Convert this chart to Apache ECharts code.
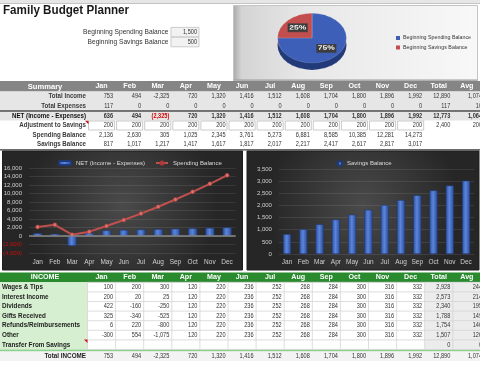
<!DOCTYPE html>
<html><head><meta charset="utf-8">
<script src="https://cdn.jsdelivr.net/npm/echarts@6/dist/echarts.min.js"></script>
<style>
html,body{margin:0;padding:0;background:#fff;overflow:hidden;width:480px;height:366px}
#main{position:absolute;left:0;top:0;width:480px;height:366px}
#pie{position:absolute;left:0;top:0;width:480px;height:120px;transform:scaleY(0.72);transform-origin:0 0;pointer-events:none}
</style></head><body>
<div id="main"></div><div id="pie"></div>
<script>
// ---------------- DATA ----------------
const months = ['Jan','Feb','Mar','Apr','May','Jun','Jul','Aug','Sep','Oct','Nov','Dec'];
const extraCols = ['Total','Avg'];
const beginningLabels = ['Beginning Spending Balance','Beginning Savings Balance'];
const beginningValues = [1500, 500];

const summaryLabels = ['Total Income','Total Expenses','NET (Income - Expenses)','Adjustment to Savings','Spending Balance','Savings Balance'];
const totalIncome   = [753,494,-2325,720,1320,1416,1512,1608,1704,1800,1896,1992];
const totalIncomeTA = [12890,1074];
const totalExpenses = [117,0,0,0,0,0,0,0,0,0,0,0];
const totalExpensesTA = [117,10];
const netIncome     = [636,494,-2325,720,1320,1416,1512,1608,1704,1800,1896,1992];
const netIncomeTA   = [12773,1064];
const adjustment    = [200,200,200,200,200,200,200,200,200,200,200,200];
const adjustmentTA  = [2400,200];
const spendingBalance = [2136,2630,305,1025,2345,3761,5273,6881,8585,10385,12281,14273];
const savingsBalance  = [817,1017,1217,1417,1617,1817,2017,2217,2417,2617,2817,3017];

const incomeLabels = ['Wages & Tips','Interest Income','Dividends','Gifts Received','Refunds/Reimbursements','Other','Transfer From Savings'];
const wages     = [100,200,300,120,220,236,252,268,284,300,316,332];
const interest  = [200,20,25,120,220,236,252,268,284,300,316,332];
const dividends = [422,-160,-250,120,220,236,252,268,284,300,316,332];
const gifts     = [325,-340,-525,120,220,236,252,268,284,300,316,332];
const refunds   = [6,220,-800,120,220,236,252,268,284,300,316,332];
const other     = [-300,554,-1075,120,220,236,252,268,284,300,316,332];
const transfer  = [null,null,null,null,null,null,null,null,null,null,null,null];
const incomeTA  = [[2928,244],[2573,214],[2340,195],[1788,149],[1754,146],[1507,126],[0,0]];
const totalIncomeRowLabel = 'Total INCOME';

// ---------------- LAYOUT HELPERS ----------------
const FONT = '"Liberation Sans", Arial, sans-serif';
const colX0 = 87.5, colW = 28.1;
const colLeft = i => colX0 + colW * i;
const colRight = i => colX0 + colW * (i + 1);
const colCenter = i => colX0 + colW * (i + 0.5);
const fmt = v => (v < 0 ? '-' : '') + String(Math.abs(v)).replace(/\B(?=(\d{3})+(?!\d))/g, ',');
const G = [];
function rect(x, y, w, h, fill, extra) {
  G.push(Object.assign({type:'rect', silent:true, z:1, shape:{x:x, y:y, width:w, height:h}, style:{fill:fill}}, extra || {}));
}
function line(x1, y1, x2, y2, stroke, lw, z) {
  G.push({type:'line', silent:true, z:z || 3, shape:{x1:x1, y1:y1, x2:x2, y2:y2}, style:{stroke:stroke, lineWidth:lw || 1}});
}
function text(x, y, t, o) {
  o = o || {};
  const al = o.align || 'left';
  G.push({type:'text', silent:true, z:o.z || 6, x:x, y:y, scaleX:o.sx || 1,
    style:{x:0, y:0, text:t, fill:o.color || '#333', font:(o.bold ? 'bold ' : '') + (o.size || 7) + 'px ' + FONT,
      textAlign:al, textVerticalAlign:'middle', align:al, verticalAlign:'middle'}});
}
function tri(x, y) {
  G.push({type:'polygon', silent:true, z:7, shape:{points:[[x, y], [x + 3.5, y], [x + 3.5, y + 3.5]]}, style:{fill:'#d01010'}});
}
function valText(i, y, v, o) {
  if (v === null || v === undefined) return;
  o = o || {};
  let s = fmt(v), color = o.color || '#333';
  if (o.paren && v < 0) { s = '(' + fmt(-v) + ')'; color = '#d00000'; }
  const x = i === 13 ? 482 : colRight(i) - 2.5;
  text(x, y, s, {align:'right', sx:0.8, size:7, bold:o.bold, color:color});
}

// ---------------- TOP AREA ----------------
rect(0, 0, 480, 3, '#e6e6e6');
line(0, 3.5, 480, 3.5, '#c4c4c4', 1);
text(3, 10.5, 'Family Budget Planner', {bold:true, size:12, sx:0.97, color:'#1a1a1a'});
const begY = [32.2, 42];
beginningLabels.forEach((l, i) => {
  text(168.5, begY[i], l, {align:'right', size:7, sx:0.95, color:'#333'});
  rect(171, begY[i] - 4.8, 28, 9.6, '#f2f2f2', {style:{fill:'#f2f2f2', stroke:'#c0c0c0', lineWidth:0.8}});
  text(197, begY[i], fmt(beginningValues[i]), {align:'right', size:7, sx:0.8, color:'#333'});
});
// pie panel
rect(233.5, 5.5, 244, 75, null, {style:{fill:{type:'linear', x:0, y:0, x2:1, y2:0,
  colorStops:[{offset:0, color:'#a8a8a8'}, {offset:0.035, color:'#d4d4d4'}, {offset:0.3, color:'#e8e8e8'}, {offset:1, color:'#f8f8f8'}]},
  stroke:'#c4c4c4', lineWidth:1}});
line(233.5, 80, 477.5, 80, '#9a9a9a', 1);

// ---------------- SUMMARY TABLE ----------------
rect(0, 81, 480, 10.5, '#858585');
text(45, 86.3, 'Summary', {align:'center', bold:true, size:8, sx:0.95, color:'#fff'});
months.concat(extraCols).forEach((m, i) => text(colCenter(i), 86.3, m, {align:'center', bold:true, size:7.5, sx:0.95, color:'#fff'}));
rect(0, 91.5, 480, 19.3, '#e6e6e6');
line(0, 111, 480, 111, '#4a4a4a', 1.3);
rect(0, 111.7, 480, 8.8, '#e6e6e6');
const sumY = [96.5, 106, 116, 125.3, 134.7, 144];
const sumVals = [totalIncome, totalExpenses, netIncome, adjustment, spendingBalance, savingsBalance];
const sumTA = [totalIncomeTA, totalExpensesTA, netIncomeTA, adjustmentTA, null, null];
for (let i = 0; i < 12; i++) rect(colLeft(i) + 1, 121, colW - 2, 9, '#ffffff', {style:{fill:'#fff', stroke:'#bdbdbd', lineWidth:0.8}});
summaryLabels.forEach((l, r) => {
  text(86, sumY[r], l, {align:'right', bold:true, size:7, sx:0.88, color:r === 2 ? '#111' : '#3a3a3a'});
  sumVals[r].forEach((v, i) => valText(i, sumY[r], v, {bold:r === 2, paren:r === 2}));
  if (sumTA[r]) sumTA[r].forEach((v, k) => valText(12 + k, sumY[r], v, {bold:r === 2}));
});
tri(85, 120.8);
line(0, 149.8, 480, 149.8, '#3a3a3a', 1.2);

// ---------------- CHART PANELS ----------------
const darkBg = {type:'radial', x:0.5, y:0.45, r:0.8, colorStops:[{offset:0, color:'#4a4a4a'}, {offset:1, color:'#262626'}]};
rect(2.5, 151, 240, 119, null, {z:-10, style:{fill:darkBg, stroke:'#1e1e1e', lineWidth:1}});
rect(247, 151, 232, 119, null, {z:-10, style:{fill:darkBg, stroke:'#1e1e1e', lineWidth:1}});

// ---------------- INCOME TABLE ----------------
rect(0, 272.5, 480, 9.8, '#2a8a2e');
text(45, 277.4, 'INCOME', {align:'center', bold:true, size:7.5, sx:0.95, color:'#fff'});
months.concat(extraCols).forEach((m, i) => text(colCenter(i), 277.4, m, {align:'center', bold:true, size:7.5, sx:0.95, color:'#fff'}));
rect(0, 282.3, colX0, 67.2, '#d6efd0');
rect(colLeft(12), 282.3, 480 - colLeft(12), 67.2, '#ececec');
const incY0 = 287.1, incH = 9.6;
for (let r = 0; r <= 7; r++) line(colX0, 282.3 + r * incH, 480, 282.3 + r * incH, '#d4d4d4', 0.8);
for (let i = 0; i <= 13; i++) line(colRight(i), 282.3, colRight(i), 349.5, '#d4d4d4', 0.8);
line(colX0, 282.3, colX0, 349.5, '#d4d4d4', 0.8);
const incVals = [wages, interest, dividends, gifts, refunds, other, transfer];
incomeLabels.forEach((l, r) => {
  const y = incY0 + r * incH;
  text(2, y, l, {bold:true, size:7, sx:0.9, color:'#222'});
  incVals[r].forEach((v, i) => valText(i, y, v));
  incomeTA[r].forEach((v, k) => valText(12 + k, y, v));
});
tri(84, 339.5);
rect(0, 349.5, 480, 2, '#8fd08f');
rect(0, 351.5, 480, 9.5, '#f3f3f3');
text(86, 356.3, totalIncomeRowLabel, {align:'right', bold:true, size:7, sx:0.9, color:'#222'});
totalIncome.forEach((v, i) => valText(i, 356.3, v));
totalIncomeTA.forEach((v, k) => valText(12 + k, 356.3, v));

// ---------------- CHARTS ----------------
const blueGrad = {type:'linear', x:0, y:0, x2:1, y2:0, colorStops:[{offset:0, color:'#2c4f9e'}, {offset:0.45, color:'#5b86dc'}, {offset:1, color:'#2a4a96'}]};
const axisLab = {color:'#d0d0d0', fontSize:6, fontFamily:FONT};
const pieColors = ['#3d5fb8', '#c24e4e'];
const pieDark = ['#22397a', '#7a2a2a'];

const option = {
  animation:false,
  backgroundColor:'#ffffff',
  graphic:{elements:G},
  legend:[
    {data:['NET (Income - Expenses)', 'Spending Balance'], left:53, top:155, itemWidth:12, itemHeight:4, itemGap:10,
      textStyle:{color:'#dcdcdc', fontSize:6, fontFamily:FONT}},
    {data:['Savings Balance'], left:332, top:155.5, itemWidth:4, itemHeight:4, icon:'rect',
      textStyle:{color:'#dcdcdc', fontSize:6, fontFamily:FONT}},
    {data:beginningLabels, orient:'vertical', left:391, top:30.5, itemWidth:4, itemHeight:4, itemGap:4.5, icon:'rect',
      textStyle:{color:'#333', fontSize:5.3, fontFamily:FONT, padding:[0, 0, 0, -2]}}
  ],
  grid:[
    {left:28.4, top:168, width:207.3, height:85},
    {left:278.9, top:169, width:195.3, height:85}
  ],
  xAxis:[
    {type:'category', gridIndex:0, data:months, axisLine:{show:false}, axisTick:{show:false},
      axisLabel:Object.assign({margin:6}, axisLab, {fontSize:6.5})},
    {type:'category', gridIndex:1, data:months, axisLine:{show:false}, axisTick:{show:false},
      axisLabel:Object.assign({margin:5}, axisLab, {fontSize:6.5})}
  ],
  yAxis:[
    {type:'value', gridIndex:0, min:-4000, max:16000, interval:2000,
      axisLine:{show:false}, axisTick:{show:false},
      splitLine:{lineStyle:{color:'rgba(255,255,255,0.09)'}},
      axisLabel:Object.assign({}, axisLab, {margin:7,
        formatter:v => (v < 0 ? '(' + fmt(-v) + ')' : fmt(v)),
        color:v => (Number(v) < 0 ? '#c81010' : '#d0d0d0')})},
    {type:'value', gridIndex:1, min:0, max:3500, interval:500,
      axisLine:{show:false}, axisTick:{show:false},
      splitLine:{lineStyle:{color:'rgba(255,255,255,0.09)'}},
      axisLabel:Object.assign({}, axisLab, {margin:7, formatter:v => fmt(v)})}
  ],
  series:[
    {name:'NET (Income - Expenses)', type:'bar', xAxisIndex:0, yAxisIndex:0, data:netIncome, barWidth:9,
      itemStyle:{color:blueGrad, borderColor:'#1e3a7a', borderWidth:0.5},
      markLine:{silent:true, symbol:'none', label:{show:false}, lineStyle:{color:'#8a8a8a', width:1.5, type:'solid'}, data:[{yAxis:0}]}},
    {name:'Spending Balance', type:'line', xAxisIndex:0, yAxisIndex:0, data:spendingBalance,
      lineStyle:{color:'#c0504d', width:2}, symbol:'circle', symbolSize:4,
      itemStyle:{color:'#d9706d', borderColor:'#a83535', borderWidth:0.6}},
    {name:'Savings Balance', type:'bar', xAxisIndex:1, yAxisIndex:1, data:savingsBalance, barWidth:8,
      itemStyle:{color:blueGrad, borderColor:'#1e3a7a', borderWidth:0.5}},
    {name:'Beginning', type:'pie', center:[-200, -200], radius:[0, 1], silent:true, label:{show:false},
      data:beginningLabels.map((n, i) => ({name:n, value:beginningValues[i], itemStyle:{color:pieColors[i]}}))}
  ]
};
echarts.init(document.getElementById('main'), null, {renderer:'canvas'}).setOption(option);

const sy = 0.72, pcx = 312, pcy = 38 / sy, pr = 34.5;
const pieOption = {
  animation:false,
  series:[
    {type:'pie', center:[pcx, pcy + 7 / sy], radius:pr, startAngle:90, silent:true, label:{show:false}, labelLine:{show:false},
      data:beginningLabels.map((n, i) => ({name:n, value:beginningValues[i], itemStyle:{color:pieDark[i]}}))},
    {type:'pie', center:[pcx, pcy], radius:pr, startAngle:90, silent:true,
      itemStyle:{borderColor:'rgba(255,255,255,0.35)', borderWidth:0.6},
      label:{show:true, position:'inside', formatter:'{d}%', color:'#fff', fontWeight:'bold', fontSize:8.5,
        fontFamily:FONT, backgroundColor:'#3c3c3c', padding:[2, 1.5, 1, 1.5]},
      labelLine:{show:false},
      data:beginningLabels.map((n, i) => ({name:n, value:beginningValues[i], itemStyle:{color:pieColors[i]}}))}
  ]
};
echarts.init(document.getElementById('pie'), null, {renderer:'canvas'}).setOption(pieOption);
</script></body></html>
